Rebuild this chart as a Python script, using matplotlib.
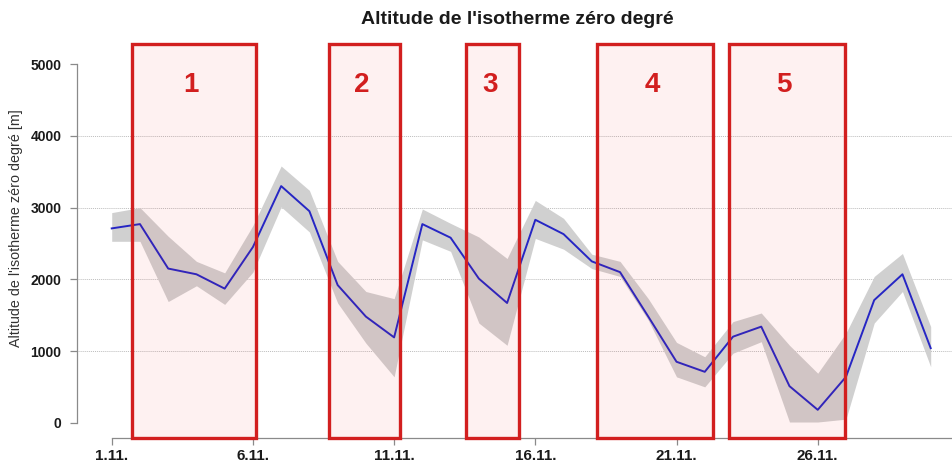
import matplotlib
matplotlib.use("Agg")
import matplotlib.pyplot as plt
from matplotlib.patches import Rectangle

plt.rcParams['font.family'] = ['Liberation Sans', 'DejaVu Sans']

days = list(range(1, 31))
mean = [2710, 2770, 2150, 2070, 1870, 2450, 3300, 2950, 1920, 1480,
        1190, 2770, 2580, 2010, 1670, 2830, 2630, 2250, 2100, 1480,
        850, 710, 1200, 1340, 510, 180, 640, 1710, 2070, 1040]
upper = [2930, 3000, 2600, 2250, 2090, 2750, 3580, 3240, 2250, 1830,
         1730, 2980, 2780, 2590, 2290, 3100, 2850, 2350, 2250, 1730,
         1120, 920, 1410, 1530, 1080, 690, 1250, 2040, 2360, 1340]
lower = [2530, 2530, 1690, 1910, 1650, 2100, 3010, 2660, 1670, 1110,
         640, 2550, 2390, 1390, 1080, 2570, 2420, 2150, 2040, 1430,
         640, 500, 970, 1130, 10, 10, 50, 1390, 1830, 780]

tick_days = [1, 6, 11, 16, 21, 26]
tick_labels = ["1.11.", "6.11.", "11.11.", "16.11.", "21.11.", "26.11."]
y_ticks = [0, 1000, 2000, 3000, 4000, 5000]
grid_levels = [1000, 2000, 3000, 4000]

box_labels = ["1", "2", "3", "4", "5"]
box_start = [1.71, 8.70, 13.55, 18.17, 22.86]
box_end = [6.10, 11.21, 15.43, 22.30, 26.97]
box_bottom = -213
box_top = 5280

title = "Altitude de l'isotherme zéro degré"
ylabel = "Altitude de l'isotherme zéro degré [m]"

W, H = 953, 462
fig = plt.figure(figsize=(W / 100, H / 100), dpi=100)
ax = fig.add_axes([76.7 / W, (H - 438) / H, 1 - 76.7 / W, (438 - 35.5) / H])

ax.set_xlim(-0.24, 30.79)
ax.set_ylim(-213, 5400)

for g in grid_levels:
    ax.axhline(g, color='#BDBDBD', lw=0.7, ls=(0, (1, 1)), zorder=1)

ax.fill_between(days, lower, upper, color='#D0D0D0', lw=0, zorder=2)
ax.plot(days, mean, color='#2626C4', lw=1.4, zorder=3)

for lab, s, e in zip(box_labels, box_start, box_end):
    ax.add_patch(Rectangle((s, box_bottom), e - s, box_top - box_bottom,
                           facecolor=(0.95, 0.1, 0.1, 0.06), edgecolor='#D21F1F',
                           lw=2.4, zorder=4, clip_on=False))
    ax.text((s + e) / 2 - 0.1, 4710, lab, color='#D21F1F', fontsize=20,
            fontweight='bold', ha='center', va='center', zorder=5)

for sp in ['top', 'right']:
    ax.spines[sp].set_visible(False)
ax.spines['left'].set_bounds(0, 5000)
ax.spines['bottom'].set_bounds(1, 30.79)
for sp in ['left', 'bottom']:
    ax.spines[sp].set_color('#8A8A8A')
    ax.spines[sp].set_linewidth(0.9)

ax.set_yticks(y_ticks)
ax.set_yticklabels([str(v) for v in y_ticks], fontweight='bold', fontsize=10)
ax.set_xticks(tick_days)
ax.set_xticklabels(tick_labels, fontweight='bold', fontsize=11)
ax.tick_params(axis='both', colors='#8A8A8A', labelcolor='#1A1A1A', length=5, width=0.9)
ax.tick_params(axis='y', pad=6)
ax.tick_params(axis='x', pad=3)

fig.text(517 / W, 1 - 20 / H, title, fontsize=14, fontweight='bold',
         ha='center', va='center', color='#1A1A1A')
fig.text(16 / W, 1 - 228 / H, ylabel, fontsize=10.3, rotation=90,
         ha='center', va='center', color='#333333')

fig.savefig("out.png", dpi=100)
